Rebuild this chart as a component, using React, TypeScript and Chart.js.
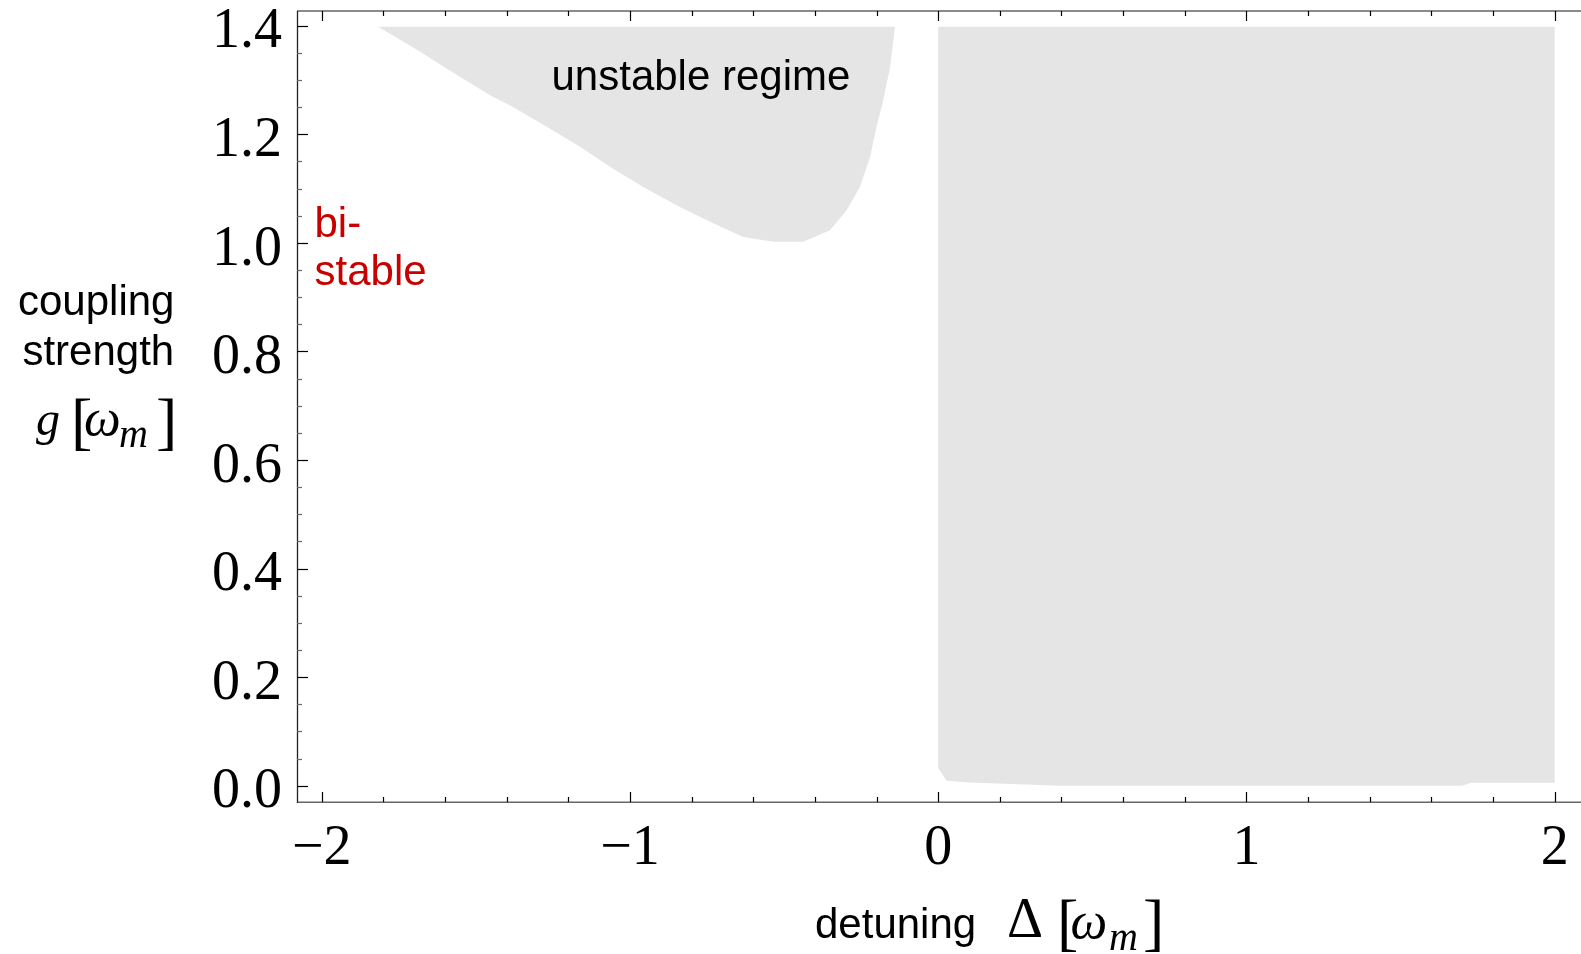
import React, { useEffect, useRef } from 'react';
import { Chart, registerables } from 'chart.js';

Chart.register(...registerables);

// ---- axis data ----
const xTickValues = [-2, -1, 0, 1, 2];
const yTickValues = [0, 0.2, 0.4, 0.6, 0.8, 1.0, 1.2, 1.4];
const xMinorStep = 0.2;
const yMinorStep = 0.05;
const xRange = [-2.0801, 2.0854];
const yRange = [-0.03, 1.4271];

// ---- unstable region for positive detuning (boundary, clockwise) ----
const rightRegionX = [0.0, 0.0, 0.027, 0.1, 0.395, 1.7, 1.73, 2.0, 2.0];
const rightRegionY = [1.398, 0.032, 0.009, 0.006, 0.0, 0.0, 0.0055, 0.0055, 1.398];

// ---- unstable regime for negative detuning (boundary) ----
const leftRegionX = [
  -1.817, -1.688, -1.595, -1.454, -1.378, -1.27, -1.162, -1.065, -0.957, -0.838,
  -0.73, -0.632, -0.535, -0.438, -0.351, -0.297, -0.254, -0.221, -0.2, -0.178, -0.156, -0.14,
];
const leftRegionY = [
  1.398, 1.355, 1.321, 1.272, 1.25, 1.214, 1.177, 1.14, 1.103, 1.066,
  1.036, 1.011, 1.002, 1.002, 1.023, 1.06, 1.103, 1.158, 1.214, 1.263, 1.324, 1.398,
];

const regionColor = '#e5e5e5';
const serif = '"Liberation Serif", "Times New Roman", serif';
const sans = '"Liberation Sans", Arial, sans-serif';

const fmtX = (v: number) => (v < 0 ? '\u2212' + Math.abs(v) : String(v));

const framePlugin = {
  id: 'frameTicks',
  afterDatasetsDraw(chart: any) {
    const { ctx, chartArea } = chart;
    const xs = chart.scales.x;
    const ys = chart.scales.y;
    const { left, right, top, bottom } = chartArea;
    ctx.save();
    // frame
    ctx.lineWidth = 1.6;
    ctx.strokeStyle = '#666';
    ctx.beginPath();
    ctx.moveTo(left, bottom + 0.3);
    ctx.lineTo(right, bottom + 0.3);
    ctx.moveTo(left, top);
    ctx.lineTo(right, top);
    ctx.stroke();
    ctx.lineWidth = 1.3;
    ctx.strokeStyle = '#222';
    ctx.beginPath();
    ctx.moveTo(left + 0.5, top);
    ctx.lineTo(left + 0.5, bottom + 1);
    ctx.stroke();

    // x ticks (bottom and top, pointing inward)
    const nX = Math.round((xRange[1] - xRange[0]) / xMinorStep) + 2;
    const xStart = Math.ceil(xRange[0] / xMinorStep) * xMinorStep;
    for (let i = 0; i < nX; i++) {
      const v = +(xStart + i * xMinorStep).toFixed(4);
      if (v > xRange[1]) break;
      const major = xTickValues.some((t) => Math.abs(t - v) < 1e-6);
      const px = Math.round(xs.getPixelForValue(v)) + 0.5;
      const len = major ? 10 : 5;
      ctx.strokeStyle = '#000';
      ctx.lineWidth = 1.2;
      ctx.beginPath();
      ctx.moveTo(px, bottom);
      ctx.lineTo(px, bottom - len);
      ctx.moveTo(px, top);
      ctx.lineTo(px, top + len);
      ctx.stroke();
    }
    // y ticks (left, pointing inward)
    const nY = Math.round((yRange[1] - yRange[0]) / yMinorStep) + 2;
    const yStart = Math.ceil(yRange[0] / yMinorStep) * yMinorStep;
    for (let i = 0; i < nY; i++) {
      const v = +(yStart + i * yMinorStep).toFixed(4);
      if (v > yRange[1]) break;
      const major = yTickValues.some((t) => Math.abs(t - v) < 1e-6);
      const py = Math.round(ys.getPixelForValue(v)) + 0.5;
      ctx.strokeStyle = major ? '#000' : '#666';
      ctx.lineWidth = 1.2;
      ctx.beginPath();
      ctx.moveTo(left, py);
      ctx.lineTo(left + (major ? 11 : 5), py);
      ctx.stroke();
    }
    ctx.restore();
  },
  afterDraw(chart: any) {
    const { ctx } = chart;
    const put = (text: string, x: number, y: number, font: string, color = '#000') => {
      ctx.font = font;
      ctx.fillStyle = color;
      ctx.textAlign = 'left';
      ctx.textBaseline = 'alphabetic';
      ctx.fillText(text, x, y);
    };
    ctx.save();
    // annotations
    put('unstable regime', 551.5, 90, `42px ${sans}`);
    put('bi-', 314.5, 237, `42px ${sans}`, '#c80000');
    put('stable', 314.5, 285, `42px ${sans}`, '#c80000');
    // y axis title
    put('coupling', 18, 315, `42px ${sans}`);
    put('strength', 22.4, 365, `42px ${sans}`);
    put('g', 36, 435, `italic 48px ${serif}`);
    put('[', 71, 442, `64px ${serif}`);
    put('\u03c9', 84, 435, `italic 52px ${serif}`);
    put('m', 119, 447, `italic 40px ${serif}`);
    put(']', 156, 442, `64px ${serif}`);
    // x axis title
    put('detuning', 815, 938, `42px ${sans}`);
    put('\u0394', 1007, 937, `56px ${serif}`);
    put('[', 1057, 943, `64px ${serif}`);
    put('\u03c9', 1070.5, 938, `italic 52px ${serif}`);
    put('m', 1109, 950, `italic 40px ${serif}`);
    put(']', 1143, 943, `64px ${serif}`);
    ctx.restore();
  },
};

export default function App() {
  const canvasRef = useRef<HTMLCanvasElement | null>(null);

  useEffect(() => {
    if (!canvasRef.current) return;
    const toPoints = (xs: number[], ys: number[]) => xs.map((x, i) => ({ x, y: ys[i] }));
    const chart = new Chart(canvasRef.current, {
      type: 'line',
      data: {
        datasets: [
          {
            label: 'unstable (Δ>0)',
            data: toPoints(rightRegionX, rightRegionY),
            fill: 'shape',
            backgroundColor: regionColor,
            borderColor: 'rgba(0,0,0,0)',
            borderWidth: 0,
            pointRadius: 0,
            tension: 0,
          },
          {
            label: 'unstable regime',
            data: toPoints(leftRegionX, leftRegionY),
            fill: 'shape',
            backgroundColor: regionColor,
            borderColor: 'rgba(0,0,0,0)',
            borderWidth: 0,
            pointRadius: 0,
            tension: 0,
          },
        ],
      } as any,
      options: {
        animation: false,
        responsive: false,
        maintainAspectRatio: false,
        layout: { padding: { top: 11, left: 0, right: 0, bottom: 0 } },
        plugins: {
          legend: { display: false },
          tooltip: { enabled: false },
          title: { display: false },
        },
        scales: {
          x: {
            type: 'linear',
            position: 'bottom',
            min: xRange[0],
            max: xRange[1],
            grid: { display: false, drawTicks: false, drawOnChartArea: false },
            border: { display: false },
            afterBuildTicks: (s: any) => {
              s.ticks = xTickValues.map((v) => ({ value: v }));
            },
            afterFit: (s: any) => {
              s.height = 152;
              s.paddingLeft = 0;
              s.paddingRight = 0;
            },
            ticks: {
              autoSkip: false,
              maxRotation: 0,
              minRotation: 0,
              padding: 14,
              color: '#000',
              font: { family: serif, size: 56 },
              callback: (v: any) => fmtX(Number(v)),
            },
          },
          y: {
            type: 'linear',
            position: 'left',
            min: yRange[0],
            max: yRange[1],
            grid: { display: false, drawTicks: false, drawOnChartArea: false },
            border: { display: false },
            afterBuildTicks: (s: any) => {
              s.ticks = yTickValues.map((v) => ({ value: v }));
            },
            afterFit: (s: any) => {
              s.width = 297;
              s.paddingTop = 0;
              s.paddingBottom = 0;
            },
            ticks: {
              autoSkip: false,
              padding: 15,
              labelOffset: 7,
              color: '#000',
              font: { family: serif, size: 56 },
              callback: (v: any) => Number(v).toFixed(1),
            },
          },
        },
      } as any,
      plugins: [framePlugin],
    });
    return () => chart.destroy();
  }, []);

  return (
    <div style={{ position: 'absolute', left: 0, top: 0, width: 1581, height: 954, background: '#fff' }}>
      <canvas ref={canvasRef} width={1581} height={954} style={{ display: 'block' }} />
    </div>
  );
}
